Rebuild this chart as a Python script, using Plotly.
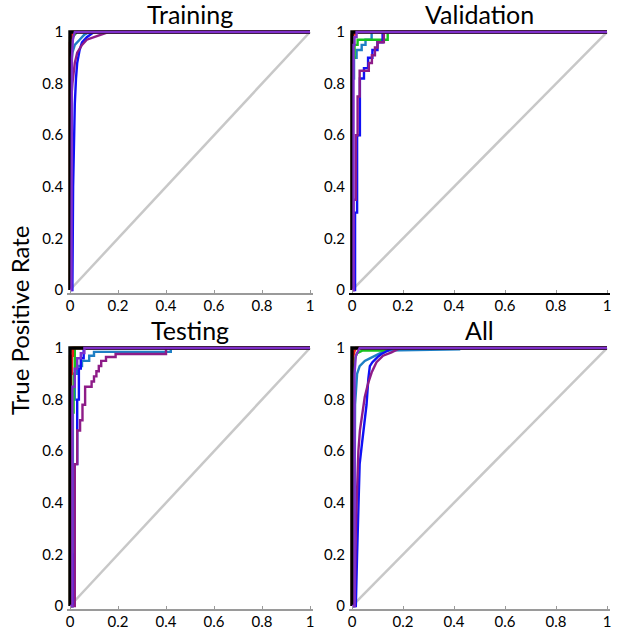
import plotly.graph_objects as go

# ---------------- data ----------------
PANEL_TITLES = ["Training", "Validation", "Testing", "All"]
TICK_VALUES = [0, 0.2, 0.4, 0.6, 0.8, 1]
TICK_LABELS = ["0", "0.2", "0.4", "0.6", "0.8", "1"]
Y_TITLE = "True Positive Rate"
CHANCE_FPR = [0, 1]
CHANCE_TPR = [0, 1]

# Training
training_teal_fpr = [0, 0.003, 0.01, 0.02, 0.04, 0.06, 0.08, 1]
training_teal_tpr = [0, 0.85, 0.92, 0.95, 0.97, 0.99, 1, 1]
training_green_fpr = [0, 0.002, 0.01, 0.03, 1]
training_green_tpr = [0, 0.93, 0.98, 1, 1]
training_blue_fpr = [0, 0.01, 0.013, 0.017, 0.02, 0.025, 0.03, 0.04, 0.05, 0.07, 0.1, 1]
training_blue_tpr = [0, 0, 0.4, 0.6, 0.72, 0.82, 0.88, 0.93, 0.96, 0.98, 1, 1]
training_magenta_fpr = [0, 0.004, 0.006, 0.01, 0.015, 0.02, 0.03, 0.05, 0.07, 0.1, 0.13, 0.16, 1]
training_magenta_tpr = [0, 0.6, 0.75, 0.8, 0.85, 0.88, 0.92, 0.95, 0.97, 0.98, 0.99, 1, 1]
training_orange_fpr = [0, 0, 0.005, 1]
training_orange_tpr = [0, 0.98, 1, 1]
training_red_fpr = [0, 0, 0.005, 0.01, 1]
training_red_tpr = [0, 0.96, 0.98, 1, 1]
training_violet_fpr = [0, 0.006, 0.008, 0.012, 0.02, 1]
training_violet_tpr = [0, 0, 0.9, 0.97, 1, 1]
training_black_fpr = [0, 0, 1]
training_black_tpr = [0, 1, 1]

# Validation
validation_teal_fpr = [0, 0, 0.008, 0.008, 0.018, 0.018, 0.038, 0.038, 0.053, 0.053, 0.077, 0.077, 1]
validation_teal_tpr = [0, 0.82, 0.82, 0.9, 0.9, 0.93, 0.93, 0.95, 0.95, 0.97, 0.97, 1, 1]
validation_green_fpr = [0, 0, 0.01, 0.01, 0.022, 0.022, 0.14, 0.14, 1]
validation_green_tpr = [0, 0.9, 0.9, 0.95, 0.95, 0.97, 0.97, 1, 1]
validation_blue_fpr = [0, 0.012, 0.012, 0.02, 0.02, 0.031, 0.031, 0.047, 0.047, 0.063, 0.063, 0.08, 0.08, 0.1, 0.1, 0.12, 0.12, 1]
validation_blue_tpr = [0, 0, 0.3, 0.3, 0.6, 0.6, 0.82, 0.82, 0.86, 0.86, 0.9, 0.9, 0.93, 0.93, 0.96, 0.96, 1, 1]
validation_magenta_fpr = [0, 0.006, 0.006, 0.015, 0.015, 0.022, 0.022, 0.03, 0.03, 0.066, 0.066, 0.078, 0.078, 0.09, 0.09, 0.1, 0.1, 0.125, 0.125, 1]
validation_magenta_tpr = [0, 0, 0.35, 0.35, 0.6, 0.6, 0.75, 0.75, 0.85, 0.85, 0.88, 0.88, 0.91, 0.91, 0.94, 0.94, 0.96, 0.96, 1, 1]
validation_orange_fpr = [0, 0, 0.005, 1]
validation_orange_tpr = [0, 0.99, 1, 1]
validation_red_fpr = [0, 0, 0.012, 0.012, 1]
validation_red_tpr = [0, 0.99, 0.99, 1, 1]
validation_violet_fpr = [0, 0.006, 0.006, 0.01, 0.01, 0.018, 0.018, 1]
validation_violet_tpr = [0, 0, 0.95, 0.95, 0.98, 0.98, 1, 1]
validation_black_fpr = [0, 0, 1]
validation_black_tpr = [0, 1, 1]

# Testing
testing_teal_fpr = [0, 0.012, 0.012, 0.02, 0.02, 0.03, 0.03, 0.05, 0.05, 0.08, 0.08, 0.1, 0.1, 0.42, 0.42, 1]
testing_teal_tpr = [0, 0, 0.8, 0.8, 0.9, 0.9, 0.93, 0.93, 0.95, 0.95, 0.97, 0.97, 0.985, 0.985, 1, 1]
testing_green_fpr = [0, 0.008, 0.008, 0.015, 0.015, 0.02, 0.02, 1]
testing_green_tpr = [0, 0, 0.75, 0.75, 0.9, 0.9, 1, 1]
testing_blue_fpr = [0, 0.012, 0.012, 0.02, 0.02, 0.03, 0.03, 0.037, 0.037, 0.045, 0.045, 0.057, 0.057, 1]
testing_blue_tpr = [0, 0, 0.2, 0.2, 0.55, 0.55, 0.8, 0.8, 0.92, 0.92, 0.96, 0.96, 1, 1]
testing_magenta_fpr = [0, 0.02, 0.02, 0.03, 0.03, 0.042, 0.042, 0.052, 0.052, 0.063, 0.063, 0.09, 0.09, 0.1, 0.1, 0.11, 0.11, 0.12, 0.12, 0.13, 0.13, 0.15, 0.15, 0.19, 0.19, 0.40, 0.40, 1]
testing_magenta_tpr = [0, 0, 0.55, 0.55, 0.68, 0.68, 0.72, 0.72, 0.78, 0.78, 0.85, 0.85, 0.87, 0.87, 0.89, 0.89, 0.91, 0.91, 0.93, 0.93, 0.95, 0.95, 0.965, 0.965, 0.977, 0.977, 1, 1]
testing_orange_fpr = [0, 0, 0.005, 1]
testing_orange_tpr = [0, 0.97, 1, 1]
testing_red_fpr = [0, 0.004, 0.004, 0.008, 0.008, 0.012, 0.012, 1]
testing_red_tpr = [0, 0, 0.9, 0.9, 0.97, 0.97, 1, 1]
testing_violet_fpr = [0, 0.01, 0.01, 0.02, 0.02, 0.03, 0.03, 0.045, 0.045, 0.06, 0.06, 1]
testing_violet_tpr = [0, 0, 0.85, 0.85, 0.92, 0.92, 0.96, 0.96, 0.98, 0.98, 1, 1]
testing_black_fpr = [0, 0, 1]
testing_black_tpr = [0, 1, 1]

# All
all_teal_fpr = [0, 0.008, 0.012, 0.016, 0.02, 0.03, 0.05, 0.07, 0.1, 0.13, 0.42, 0.42, 1]
all_teal_tpr = [0, 0, 0.78, 0.86, 0.9, 0.93, 0.95, 0.96, 0.975, 0.99, 0.995, 1, 1]
all_green_fpr = [0, 0.004, 0.008, 0.012, 0.02, 0.04, 0.14, 0.15, 1]
all_green_tpr = [0, 0, 0.93, 0.96, 0.98, 0.99, 0.99, 1, 1]
all_blue_fpr = [0, 0.015, 0.02, 0.025, 0.03, 0.038, 0.05, 0.057, 0.064, 0.07, 0.08, 0.09, 0.1, 0.116, 0.14, 0.16, 1]
all_blue_tpr = [0, 0, 0.2, 0.4, 0.55, 0.62, 0.72, 0.78, 0.88, 0.93, 0.945, 0.957, 0.965, 0.977, 0.99, 1, 1]
all_magenta_fpr = [0, 0.01, 0.015, 0.02, 0.025, 0.031, 0.04, 0.05, 0.064, 0.077, 0.096, 0.122, 0.155, 0.19, 1]
all_magenta_tpr = [0, 0, 0.3, 0.5, 0.6, 0.68, 0.74, 0.81, 0.866, 0.905, 0.945, 0.97, 0.983, 1, 1]
all_orange_fpr = [0, 0, 0.005, 0.01, 0.02, 1]
all_orange_tpr = [0, 0.93, 0.97, 0.99, 1, 1]
all_red_fpr = [0, 0, 0.01, 0.015, 1]
all_red_tpr = [0, 0.95, 0.99, 1, 1]
all_violet_fpr = [0, 0.01, 0.01, 0.015, 0.03, 1]
all_violet_tpr = [0, 0, 0.9, 0.97, 1, 1]
all_black_fpr = [0, 0, 1]
all_black_tpr = [0, 1, 1]

# drawing order (bottom -> top)
CLASS_ORDER = ["teal", "green", "blue", "magenta", "orange", "red", "black", "violet"]

# ---------------- styles ----------------
CLASS_COLORS = {
    "teal": "#1E7FC4",
    "green": "#19C21E",
    "blue": "#1010F5",
    "magenta": "#8E1C88",
    "orange": "#F08C00",
    "red": "#EE1C1C",
    "violet": "#7F2FCB",
    "black": "#000000",
}
CLASS_WIDTHS = {"black": 3.4}

W, H = 618, 629
FONT = "Lato, 'Liberation Sans', sans-serif"

panel_data = {
    "Training": {c: (globals()[f"training_{c}_fpr"], globals()[f"training_{c}_tpr"]) for c in CLASS_ORDER},
    "Validation": {c: (globals()[f"validation_{c}_fpr"], globals()[f"validation_{c}_tpr"]) for c in CLASS_ORDER},
    "Testing": {c: (globals()[f"testing_{c}_fpr"], globals()[f"testing_{c}_tpr"]) for c in CLASS_ORDER},
    "All": {c: (globals()[f"all_{c}_fpr"], globals()[f"all_{c}_tpr"]) for c in CLASS_ORDER},
}

# pixel geometry of each panel: (x at 0, x at 1, y at 1, y at 0)
GEOM = {
    "Training": (70, 310, 32, 290),
    "Validation": (352, 607, 32, 290),
    "Testing": (70, 310, 348, 606),
    "All": (352, 607, 348, 606),
}
PAD = 0.012


def px(x):
    return x / W


def py(y):
    return 1 - y / H


fig = go.Figure()
layout = dict(
    width=W, height=H, margin=dict(l=0, r=0, t=0, b=0, autoexpand=False), autosize=False,
    paper_bgcolor="white", plot_bgcolor="white", showlegend=False,
    font=dict(family=FONT, color="black"), hovermode=False,
)
annotations = []

for i, title in enumerate(PANEL_TITLES):
    idx = "" if i == 0 else str(i + 1)
    x0, x1, y1, y0 = GEOM[title]
    sx = (x1 - x0)
    sy = (y0 - y1)
    xa = "x" + idx
    ya = "y" + idx
    is_val = title == "Validation"
    layout["xaxis" + idx] = dict(
        domain=[px(x0 - PAD * sx), px(x1 + PAD * sx)], range=[-PAD, 1 + PAD], anchor=ya,
        tickvals=TICK_VALUES, ticktext=TICK_LABELS, showgrid=False,
        zeroline=False, showline=True, automargin=False,
        linecolor="black" if is_val else "#9A9A9A",
        linewidth=2 if is_val else 1.5,
        ticks="inside", ticklen=3, tickcolor="#9A9A9A",
        ticklabelstandoff=-2,
        tickfont=dict(size=15, family=FONT, color="black"),
        fixedrange=True,
    )
    layout["yaxis" + idx] = dict(
        domain=[py(y0 + PAD * sy), py(y1 - PAD * sy)], range=[-PAD, 1 + PAD], anchor=xa,
        tickvals=TICK_VALUES, ticktext=TICK_LABELS, showgrid=False, automargin=False,
        zeroline=False, showline=False, ticks="", ticklabelstandoff=3,
        tickfont=dict(size=15, family=FONT, color="black"),
        fixedrange=True,
    )
    # chance diagonal
    fig.add_trace(go.Scatter(x=CHANCE_FPR, y=CHANCE_TPR, mode="lines",
                             line=dict(color="#C8C8C8", width=2.5),
                             xaxis=xa, yaxis=ya, hoverinfo="skip"))
    for c in CLASS_ORDER:
        fpr, tpr = panel_data[title][c]
        fig.add_trace(go.Scatter(x=fpr, y=tpr, mode="lines",
                                 line=dict(color=CLASS_COLORS[c], width=CLASS_WIDTHS.get(c, 2.4)),
                                 xaxis=xa, yaxis=ya, name=c))
    annotations.append(dict(
        text=title, x=px((x0 + x1) / 2), y=py(y1 - 18),
        xref="paper", yref="paper", xanchor="center", yanchor="middle",
        showarrow=False, font=dict(size=25, family=FONT, color="black"),
    ))

annotations.append(dict(
    text=Y_TITLE, x=px(19), y=py(320), xref="paper", yref="paper",
    xanchor="center", yanchor="middle", textangle=-90, showarrow=False,
    font=dict(size=24, family=FONT, color="black"),
))
layout["annotations"] = annotations
fig.update_layout(**layout)
fig.write_html(
    "out.html",
    config={"displayModeBar": False, "staticPlot": True},
    post_script="document.body.style.margin='0';document.body.style.overflow='hidden';",
)
